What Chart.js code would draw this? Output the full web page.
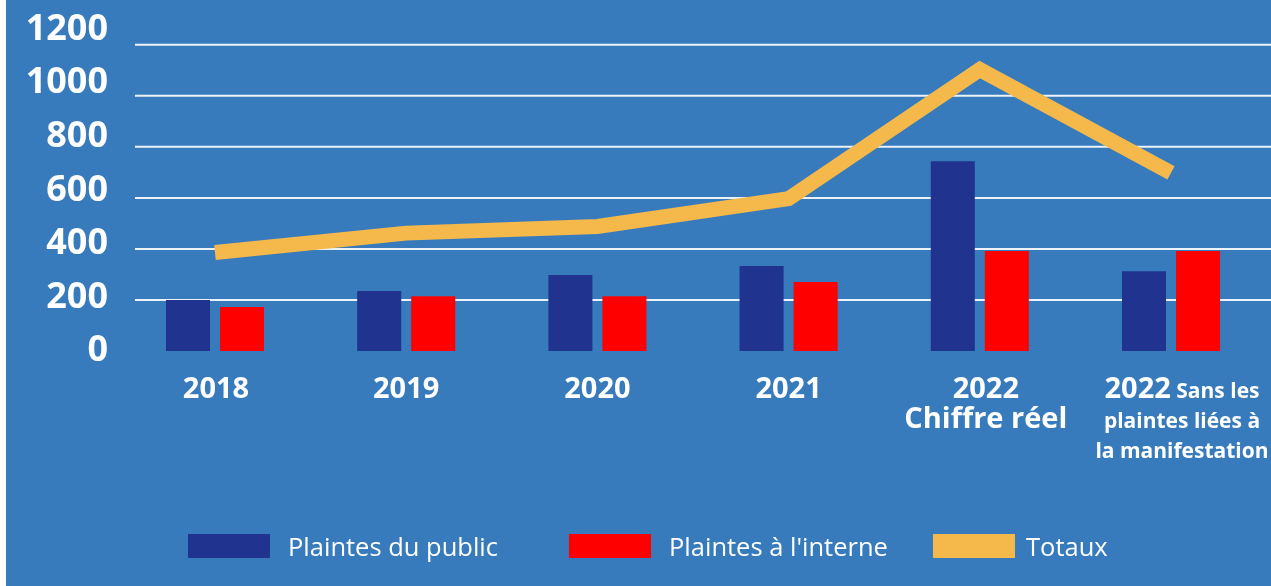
<!DOCTYPE html>
<html lang="fr">
<head>
<meta charset="utf-8">
<title>Plaintes 2018-2022</title>
<script src="https://cdn.jsdelivr.net/npm/chart.js@4.4.0/dist/chart.umd.min.js"></script>
<style>
  html, body { margin: 0; padding: 0; background: #fff; }
  #panel {
    position: absolute; left: 6px; top: 0;
    width: 1265px; height: 586px;
    background: #377bbc; overflow: hidden;
  }
  #chart { position: absolute; left: 0; top: 0; }
  .legend-box { position: absolute; top: 534px; width: 82px; height: 24px; }
  .legend-text {
    position: absolute; top: 534px; height: 24px; line-height: 24px;
    font-family: "Open Sans", sans-serif; font-size: 25.5px; color: #fff;
    white-space: nowrap;
  }
</style>
</head>
<body>
<div id="panel">
  <canvas id="chart" width="1265" height="586"></canvas>
  <div id="legend"></div>
</div>
<script>
// Categories and tick labels
const categories = ['2018', '2019', '2020', '2021', '2022 Chiffre réel', '2022 Sans les plaintes liées à la manifestation'];
const tickLabels = [
    ['2018'],
    ['2019'],
    ['2020'],
    ['2021'],
    ['2022', 'Chiffre réel'],
    ['2022 Sans les', 'plaintes liées à', 'la manifestation']
];
const yTicks = [0, 200, 400, 600, 800, 1000, 1200];

// Series
const seriesNames = ['Plaintes du public', "Plaintes à l'interne", 'Totaux'];
const plaintesPublic = [200, 235, 298, 333, 744, 313];
const plaintesInterne = [172, 215, 215, 270, 392, 392];
const totaux = [386, 462, 488, 597, 1103, 698];

const colors = {
    public: '#20338f',
    interne: '#ff0000',
    totaux: '#f5b84a',
    grid: 'rgba(255, 255, 255, 0.9)'
};

// Small horizontal nudges for the category captions
const labelNudge = [1, 0, 0, 0, 6, 11];

const bigFont = 'bold 29px "Open Sans", sans-serif';
const smallFont = 'bold 21px "Open Sans", sans-serif';

// Horizontal grid lines, starting a little right of the plot edge
const gridPlugin = {
    id: 'gridLines',
    beforeDatasetsDraw(chart) {
        const ctx = chart.ctx;
        const y = chart.scales.y;
        ctx.save();
        ctx.strokeStyle = colors.grid;
        ctx.lineWidth = 2;
        yTicks.filter(v => v > 0).forEach(v => {
            const py = y.getPixelForValue(v);
            ctx.beginPath();
            ctx.moveTo(129, py);
            ctx.lineTo(chart.width, py);
            ctx.stroke();
        });
        ctx.restore();
    }
};

// Category captions under the bars (the last one mixes two font sizes)
const xLabelPlugin = {
    id: 'xLabels',
    afterDraw(chart) {
        const ctx = chart.ctx;
        const xs = chart.scales.x;
        ctx.save();
        ctx.fillStyle = '#fff';
        ctx.textBaseline = 'alphabetic';
        tickLabels.forEach((lines, i) => {
            const cx = xs.getPixelForValue(i) + (labelNudge[i] || 0);
            lines.forEach((line, k) => {
                const ly = 397.5 + k * 30;
                const m = k === 0 ? line.match(/^(\d{4})(.*)$/) : null;
                if (m && m[2]) {
                    ctx.font = bigFont;
                    const w1 = ctx.measureText(m[1]).width;
                    ctx.font = smallFont;
                    const w2 = ctx.measureText(m[2]).width;
                    const x0 = cx - (w1 + w2) / 2;
                    ctx.textAlign = 'left';
                    ctx.font = bigFont;
                    ctx.fillText(m[1], x0, ly);
                    ctx.font = smallFont;
                    ctx.fillText(m[2], x0 + w1, ly);
                } else {
                    ctx.font = (lines.length > 2 && k > 0) ? smallFont : bigFont;
                    ctx.textAlign = 'center';
                    ctx.fillText(line, cx, ly);
                }
            });
        });
        ctx.restore();
    }
};

const ctx = document.getElementById('chart').getContext('2d');

new Chart(ctx, {
    type: 'bar',
    data: {
        labels: categories,
        datasets: [
            {
                type: 'line',
                label: seriesNames[2],
                data: totaux,
                borderColor: colors.totaux,
                backgroundColor: colors.totaux,
                borderWidth: 15,
                borderJoinStyle: 'miter',
                borderCapStyle: 'butt',
                pointRadius: 0,
                tension: 0,
                fill: false,
                yAxisID: 'y',
                order: 0
            },
            {
                label: seriesNames[0],
                data: plaintesPublic,
                backgroundColor: colors.public,
                yAxisID: 'y',
                categoryPercentage: 0.565,
                barPercentage: 0.815,
                order: 1
            },
            {
                label: seriesNames[1],
                data: plaintesInterne,
                backgroundColor: colors.interne,
                yAxisID: 'y',
                categoryPercentage: 0.565,
                barPercentage: 0.815,
                order: 1
            }
        ]
    },
    options: {
        responsive: false,
        maintainAspectRatio: false,
        animation: false,
        devicePixelRatio: 1,
        layout: {
            padding: { left: 0, right: 4.4, top: 29.5, bottom: 235 }
        },
        plugins: {
            legend: { display: false },
            tooltip: { enabled: false }
        },
        scales: {
            x: {
                display: false,
                offset: true
            },
            y: {
                display: false,
                min: 0,
                max: 1260
            },
            yLabels: {
                position: 'left',
                min: 0,
                max: 1200,
                grid: { display: false, drawTicks: false },
                border: { display: false },
                afterFit(scale) {
                    scale.width = 113.4;
                },
                afterBuildTicks(scale) {
                    scale.ticks = yTicks.map(v => ({ value: v }));
                },
                ticks: {
                    color: '#fff',
                    padding: 11.4,
                    font: { family: '"Open Sans", sans-serif', size: 36, weight: 'bold', lineHeight: 1 },
                    callback: value => String(value)
                }
            }
        }
    },
    plugins: [gridPlugin, xLabelPlugin]
});

// Legend
const legendEntries = [
    { name: seriesNames[0], color: colors.public, box: 182, text: 282 },
    { name: seriesNames[1], color: colors.interne, box: 563, text: 663 },
    { name: seriesNames[2], color: colors.totaux, box: 927, text: 1020 }
];
const legend = document.getElementById('legend');
legendEntries.forEach(e => {
    const box = document.createElement('div');
    box.className = 'legend-box';
    box.style.left = e.box + 'px';
    box.style.background = e.color;
    const txt = document.createElement('div');
    txt.className = 'legend-text';
    txt.style.left = e.text + 'px';
    txt.textContent = e.name;
    legend.appendChild(box);
    legend.appendChild(txt);
});
</script>
</body>
</html>
